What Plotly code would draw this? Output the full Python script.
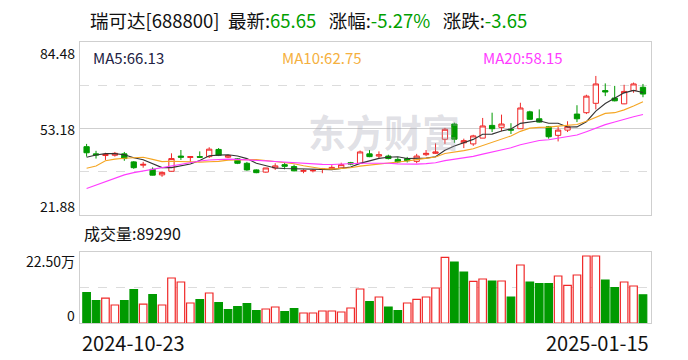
import plotly.graph_objects as go

# ---------------- data ----------------
dates = [
    "2024-10-23", "2024-10-24", "2024-10-25", "2024-10-28", "2024-10-29", "2024-10-30", "2024-10-31",
    "2024-11-01", "2024-11-04", "2024-11-05", "2024-11-06", "2024-11-07", "2024-11-08", "2024-11-11",
    "2024-11-12", "2024-11-13", "2024-11-14", "2024-11-15", "2024-11-18", "2024-11-19", "2024-11-20",
    "2024-11-21", "2024-11-22", "2024-11-25", "2024-11-26", "2024-11-27", "2024-11-28", "2024-11-29",
    "2024-12-02", "2024-12-03", "2024-12-04", "2024-12-05", "2024-12-06", "2024-12-09", "2024-12-10",
    "2024-12-11", "2024-12-12", "2024-12-13", "2024-12-16", "2024-12-17", "2024-12-18", "2024-12-19",
    "2024-12-20", "2024-12-23", "2024-12-24", "2024-12-25", "2024-12-26", "2024-12-27", "2024-12-30",
    "2024-12-31", "2025-01-02", "2025-01-03", "2025-01-06", "2025-01-07", "2025-01-08", "2025-01-09",
    "2025-01-10", "2025-01-13", "2025-01-14", "2025-01-15",
]

opens = [46.6, 44.0, 43.4, 43.5, 44.0, 41.1, 39.9, 38.4, 36.4, 37.7,
         43.2, 42.7, 43.0, 43.0, 45.6, 42.8, 42.2, 40.6, 38.2, 37.4,
         38.9, 40.1, 39.4, 37.7, 37.85, 38.4, 38.4, 38.9, 40.8, 40.6,
         44.0, 43.2, 43.2, 42.0, 42.3, 41.3, 43.7, 44.2, 49.3, 54.8,
         48.0, 47.6, 49.7, 54.3, 53.6, 52.9, 53.1, 59.2, 56.7, 53.8,
         50.7, 52.6, 58.4, 58.9, 62.3, 66.9, 64.2, 62.1, 66.9, 68.1]
highs = [47.6, 45.1, 44.4, 44.7, 44.7, 41.4, 41.1, 39.1, 37.7, 44.2,
         45.4, 43.2, 44.9, 46.4, 46.1, 43.7, 42.5, 41.1, 38.4, 38.9,
         40.6, 40.8, 40.1, 38.4, 38.4, 38.9, 39.9, 40.8, 41.1, 45.2,
         45.4, 44.9, 43.7, 42.8, 42.9, 44.0, 45.4, 47.8, 53.4, 55.3,
         49.5, 50.9, 57.0, 58.9, 58.2, 55.1, 62.5, 59.6, 60.1, 54.1,
         53.8, 55.8, 61.6, 65.4, 72.2, 69.5, 68.6, 69.0, 69.8, 69.3]
lows = [43.0, 42.3, 41.8, 43.0, 41.5, 38.6, 39.0, 36.2, 35.7, 37.6,
        41.8, 41.1, 42.5, 42.5, 43.2, 42.5, 40.3, 37.9, 37.0, 37.2,
        38.2, 38.4, 37.7, 37.0, 37.3, 37.0, 38.2, 38.6, 39.9, 40.5,
        42.8, 42.5, 42.0, 40.8, 40.9, 40.6, 43.2, 44.0, 47.6, 48.0,
        46.1, 46.9, 49.7, 51.9, 52.2, 51.2, 53.0, 56.3, 55.3, 49.5,
        48.5, 51.9, 55.5, 58.4, 60.1, 64.9, 63.0, 62.0, 66.1, 64.5]
closes = [44.4, 43.6, 43.8, 44.2, 42.3, 39.0, 40.2, 36.3, 37.3, 42.3,
          42.8, 43.0, 42.8, 45.7, 43.5, 43.4, 40.6, 38.2, 37.2, 38.9,
          39.65, 39.5, 37.85, 37.95, 38.0, 38.6, 39.1, 40.1, 40.3, 44.7,
          43.0, 43.7, 42.3, 41.1, 41.5, 43.2, 44.2, 44.7, 52.9, 49.3,
          48.8, 50.5, 54.1, 53.1, 54.8, 52.6, 60.6, 56.5, 55.5, 50.2,
          52.6, 53.8, 56.7, 64.9, 69.3, 66.4, 63.2, 66.6, 69.3, 65.65]
volumes = [96000, 70700, 79000, 57000, 70700, 105600, 60000, 89800, 57000, 142600,
           130000, 63400, 73900, 95000, 64400, 42200, 51700, 61200, 39000, 44400,
           50700, 35900, 45400, 31700, 31700, 38000, 38000, 34900, 47500, 107700,
           67600, 82400, 50700, 39100, 63400, 75000, 82400, 110900, 208100, 193300,
           161600, 132000, 139400, 133100, 133100, 82400, 183800, 129900, 124600, 124600,
           148900, 119400, 152100, 212300, 212300, 136300, 112000, 129900, 117300, 89290]

# moving-average values before enough closes are available
ma5_head = [42.8, 43.6, 44.1, 44.1]
ma10_head = [38.8, 39.6, 41.5, 42.1, 42.4, 42.5, 42.8, 42.0, 41.2]
ma20_head = [31.5, 32.7, 33.9, 35.2, 36.4, 37.2, 37.8, 38.5, 39.1, 39.6,
             40.3, 40.9, 41.4, 41.8, 42.0, 42.1, 42.0, 41.9, 41.8]

price_ticks = [21.88, 53.18, 84.48]
vol_ticks = ["22.50万", "0"]
vol_max = 225000
title_name = "瑞可达[688800]"
latest, pct, chg = "65.65", "-5.27%", "-3.65"
ma_labels = ["MA5:66.13", "MA10:62.75", "MA20:58.15"]
vol_label = "成交量:89290"

# ---------------- derived ----------------
def sma(vals, n, head):
    return list(head) + [sum(vals[i - n + 1:i + 1]) / n for i in range(n - 1, len(vals))]

ma5 = sma(closes, 5, ma5_head)
ma10 = sma(closes, 10, ma10_head)
ma20 = sma(closes, 20, ma20_head)

RED = "#f02828"
GREEN = "#009a00"
FONT = "Noto Sans CJK SC"

prev = [opens[0]] + closes[:-1]
vol_up = [c >= p for c, p in zip(closes, prev)]
vol_fill = ["white" if u else GREEN for u in vol_up]
vol_line = [RED if u else GREEN for u in vol_up]

fig = go.Figure()
fig.add_trace(go.Candlestick(
    x=dates, open=opens, high=highs, low=lows, close=closes,
    increasing=dict(line=dict(color=RED, width=1), fillcolor="white"),
    decreasing=dict(line=dict(color=GREEN, width=1), fillcolor=GREEN),
    whiskerwidth=0, xaxis="x", yaxis="y", showlegend=False, hoverinfo="skip"))
for vals, col in [(ma5, "#333333"), (ma10, "#f5a623"), (ma20, "#ff3cff")]:
    fig.add_trace(go.Scatter(x=dates, y=vals, mode="lines", line=dict(color=col, width=1.1),
                             xaxis="x", yaxis="y", showlegend=False, hoverinfo="skip"))
fig.add_trace(go.Bar(x=dates, y=volumes, marker=dict(color=vol_fill, line=dict(color=vol_line, width=1.2)),
                     xaxis="x2", yaxis="y2", showlegend=False, hoverinfo="skip"))

L, R, T, B = 80, 37, 42, 37
W, H = 688, 360
PW, PH = W - L - R, H - T - B
def px(x):
    return (x - L) / PW
def py(y):
    return (H - B - y) / PH

price_dom = [py(215), 1]
vol_dom = [0, py(252)]
xr = [-0.7, len(dates) - 1 + 0.85]
border = "#cfcfcf"

axis_common = dict(showline=True, mirror=True, linecolor=border, linewidth=1, zeroline=False,
                   ticks="", fixedrange=True)
fig.update_layout(
    width=W, height=H, margin=dict(l=L, r=R, t=T, b=B),
    paper_bgcolor="white", plot_bgcolor="white",
    font=dict(family=FONT, color="#111"),
    bargap=0.2, boxgap=0.2,
    xaxis=dict(domain=[0, 1], anchor="y", type="category", range=xr, showticklabels=False,
               showgrid=False, rangeslider=dict(visible=False), **axis_common),
    yaxis=dict(domain=price_dom, anchor="x", range=[price_ticks[0], price_ticks[2]],
               tickvals=[(price_ticks[0] + price_ticks[1]) / 2, (price_ticks[1] + price_ticks[2]) / 2],
               showticklabels=False, showgrid=True, gridcolor="#dcdcdc", griddash="dash", gridwidth=1,
               **axis_common),
    xaxis2=dict(domain=[0, 1], anchor="y2", type="category", range=xr, showticklabels=False,
                showgrid=False, **axis_common),
    yaxis2=dict(domain=vol_dom, anchor="x2", range=[0, vol_max], tickvals=[vol_max / 2],
                showticklabels=False, showgrid=True, gridcolor="#dcdcdc", griddash="dash", gridwidth=1,
                **axis_common),
    shapes=[dict(type="line", xref="x domain", yref="y", x0=0, x1=1, y0=price_ticks[1], y1=price_ticks[1],
                 line=dict(color=border, width=1), layer="below")],
)

ann = []
g = "#00a000"
sp2 = "&nbsp;" * 2
sp3 = "&nbsp;" * 3
title = (f"{title_name}{sp2}最新:<span style='color:{g}'>{latest}</span>{sp3}"
         f"涨幅:<span style='color:{g}'>{pct}</span>{sp3}涨跌:<span style='color:{g}'>{chg}</span>")
ann.append(dict(text=title, xref="paper", yref="paper", x=px(88), y=py(20), xanchor="left", yanchor="middle",
                showarrow=False, font=dict(size=18.5, color="#111", family=FONT)))
for lab, xx, col in zip(ma_labels, [91, 280, 481], ["#222244", "#f5b040", "#ff3cff"]):
    ann.append(dict(text=lab, xref="paper", yref="paper", x=px(xx), y=py(57), xanchor="left", yanchor="middle",
                    showarrow=False, font=dict(size=15, color=col, family=FONT)))
ann.append(dict(text=vol_label, xref="paper", yref="paper", x=px(82), y=py(233), xanchor="left",
                yanchor="middle", showarrow=False, font=dict(size=16, color="#111", family=FONT)))
# price axis labels
for txt, yy in [(f"{price_ticks[2]:.2f}", 53), (f"{price_ticks[0]:.2f}", 206)]:
    ann.append(dict(text=txt, xref="paper", yref="paper", x=0, y=py(yy), xanchor="right",
                    yanchor="middle", xshift=-3, showarrow=False, font=dict(size=14, family=FONT)))
ann.append(dict(text=f"{price_ticks[1]:.2f}", xref="paper", yref="y", x=0, y=price_ticks[1], xanchor="right",
                yanchor="middle", xshift=-3, showarrow=False, font=dict(size=14, family=FONT)))
# volume axis labels
for txt, yy in [(vol_ticks[0], 261), (vol_ticks[1], 315)]:
    ann.append(dict(text=txt, xref="paper", yref="paper", x=0, y=py(yy), xanchor="right",
                    yanchor="middle", xshift=-3, showarrow=False, font=dict(size=14, family=FONT)))
# date labels
ann.append(dict(text=dates[0], xref="paper", yref="paper", x=0, y=py(342), xanchor="left", yanchor="middle",
                showarrow=False, font=dict(size=20, family=FONT)))
ann.append(dict(text=dates[-1], xref="paper", yref="paper", x=1, y=py(342), xanchor="right", yanchor="middle",
                showarrow=False, font=dict(size=20, family=FONT)))
# watermark
ann.append(dict(text="<b>东方财富</b>", xref="paper", yref="paper", x=px(384), y=py(130), xanchor="center",
                yanchor="middle", showarrow=False, font=dict(size=38, color="rgba(160,160,175,0.32)", family=FONT)))
fig.update_layout(annotations=ann)

fig.write_html("out.html", config={"displayModeBar": False},
               post_script="document.body.style.margin='0px';")
